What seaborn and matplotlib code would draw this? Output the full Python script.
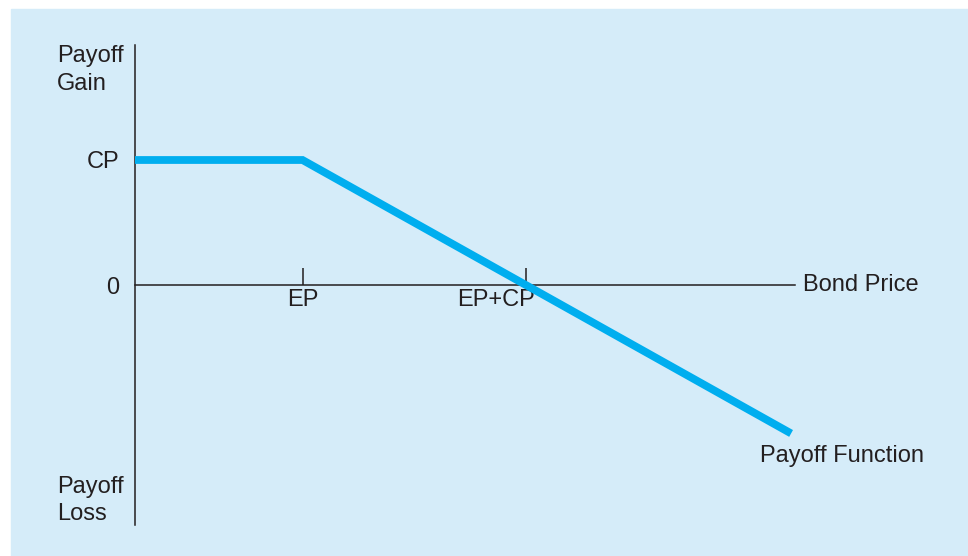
import matplotlib
matplotlib.use("Agg")
import matplotlib.pyplot as plt
import matplotlib.transforms as mtransforms
import seaborn as sns
from matplotlib.patches import Rectangle

# --- valores del diagrama (unidades arbitrarias) ---
exercise_price = 3.0      # EP
call_premium = 4.0        # CP
bond_price = [0.0, exercise_price, 11.75]
payoff = [call_premium, call_premium, call_premium - (11.75 - exercise_price)]
xtick_pos = [exercise_price, exercise_price + call_premium]
xtick_labels = ["EP", "EP+CP"]
ytick_pos = [0.0, call_premium]
ytick_labels = ["0", "CP"]

bg_blue = "#d5ecf9"
line_blue = "#00aeef"
ink = "#231f20"

sns.set_style("white", {"axes.facecolor": "none"})
plt.rcParams["font.family"] = ["Liberation Sans", "DejaVu Sans"]
plt.rcParams["font.size"] = 17

fig = plt.figure(figsize=(9.68, 5.56), dpi=100, facecolor="white")
fig.patches.append(Rectangle((11 / 968, 0), 1, (556 - 9) / 556,
                             transform=fig.transFigure, color=bg_blue, zorder=-5))

ax = fig.add_axes([135 / 968, 31 / 556, 660 / 968, 480 / 556])
ax.set_zorder(2)
sns.lineplot(x=bond_price, y=payoff, ax=ax, color=line_blue, linewidth=5.6,
             solid_capstyle="butt", solid_joinstyle="miter", zorder=5)
for ln in ax.lines:
    ln.set_clip_on(False)

ax.set_xlim(0, 11.82)
ax.set_ylim(-7.68, 7.68)

# ejes cruzados
for side in ["top", "right"]:
    ax.spines[side].set_visible(False)
ax.spines["bottom"].set_position(("data", 0))
for side in ["left", "bottom"]:
    ax.spines[side].set_color(ink)
    ax.spines[side].set_linewidth(1.1)
    ax.spines[side].set_zorder(1)

ax.set_xticks(xtick_pos)
ax.set_xticklabels(xtick_labels)
ax.tick_params(axis="x", bottom=True, direction="in", length=12, width=1.1,
               color=ink, pad=3, labelcolor=ink, labelsize=17)
ax.set_yticks(ytick_pos)
ax.set_yticklabels(ytick_labels)
ax.tick_params(axis="y", left=True, length=0, pad=11, labelcolor=ink, labelsize=17)

# la etiqueta EP+CP queda algo a la izquierda de su marca
lbl = ax.get_xticklabels()[1]
lbl.set_transform(lbl.get_transform() +
                  mtransforms.ScaledTranslation(-30 / 100, 0, fig.dpi_scale_trans))

# rótulos
ax.text(-78 / 660, 1.0, "Payoff\nGain", transform=ax.transAxes,
        ha="left", va="top", color=ink, fontsize=17, linespacing=1.35)
ax.text(-78 / 660, 0.0, "Payoff\nLoss", transform=ax.transAxes,
        ha="left", va="bottom", color=ink, fontsize=17, linespacing=1.3)
ax.text(1.0 + 8 / 660, 0.5, "Bond Price", transform=ax.transAxes,
        ha="left", va="center", color=ink, fontsize=17)
ax.annotate("Payoff Function", xy=(bond_price[-1], payoff[-1]),
            xytext=(-31, -23), textcoords="offset pixels",
            ha="left", va="center", color=ink, fontsize=17)

ax.set_xlabel("")
ax.set_ylabel("")

fig.savefig("out.png", dpi=100, facecolor="white")
